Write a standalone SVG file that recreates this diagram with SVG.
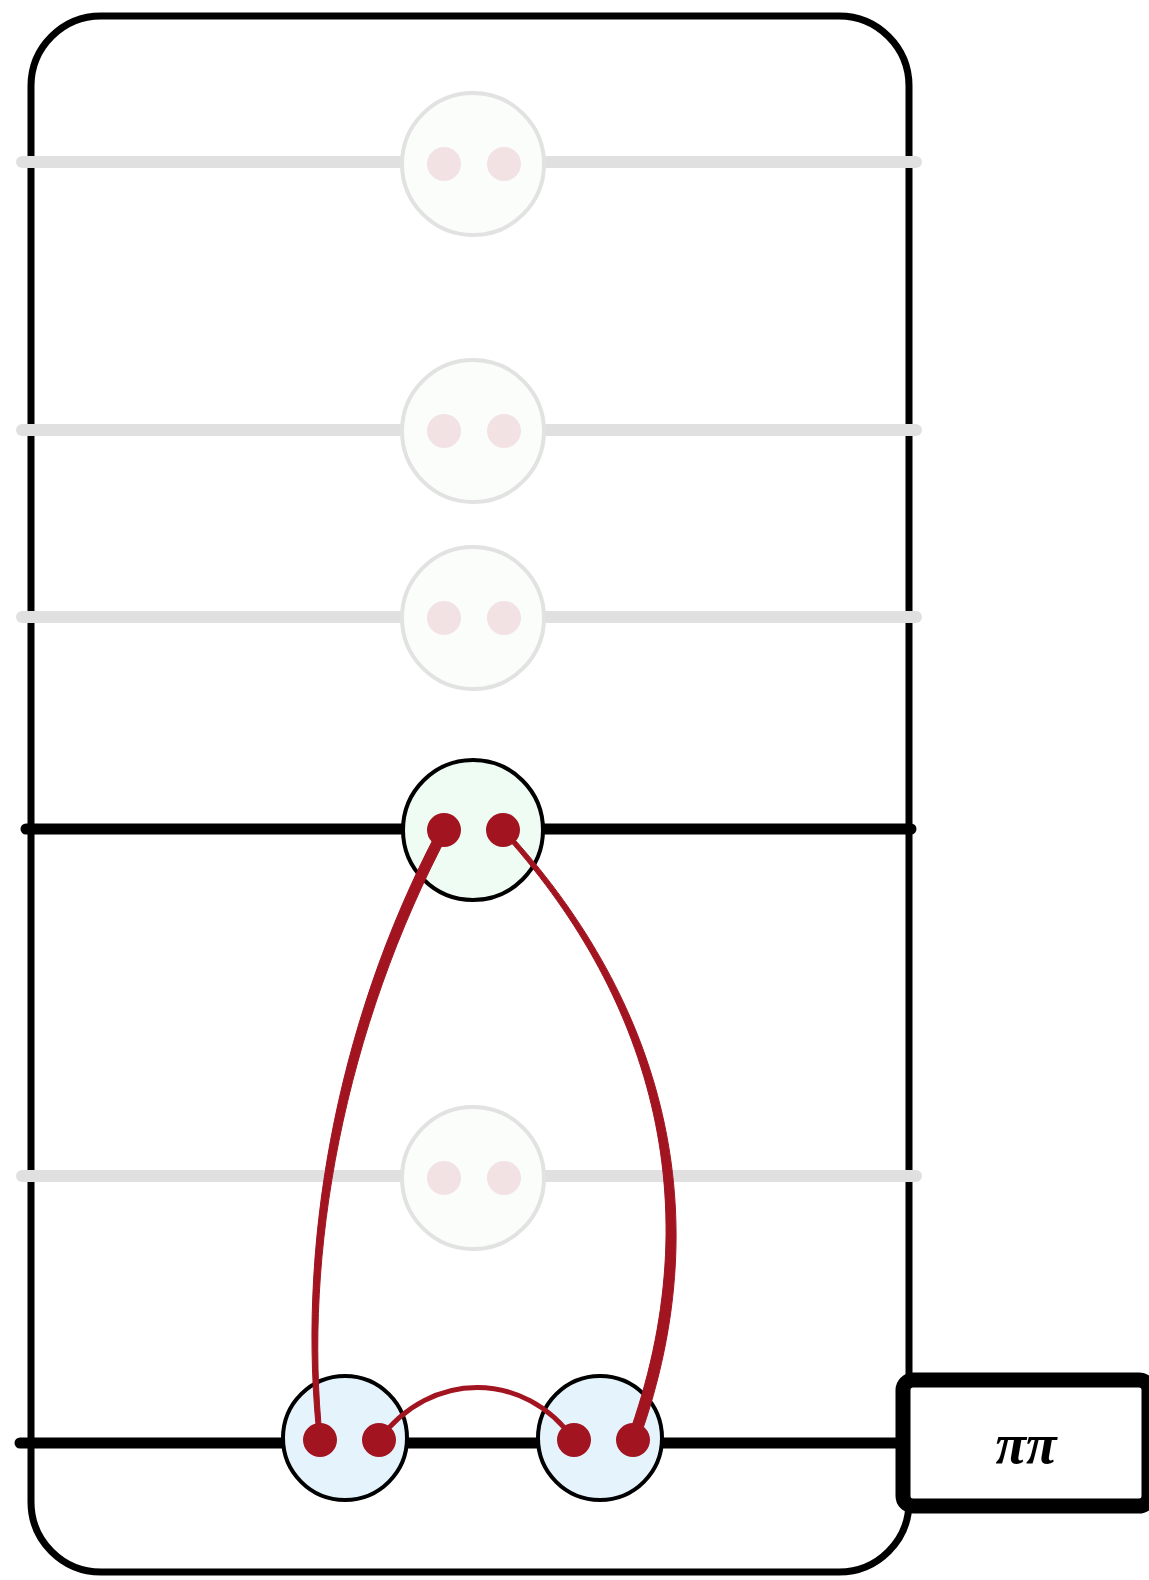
<svg xmlns="http://www.w3.org/2000/svg" width="1149" height="1580" viewBox="0 0 1149 1580">
<style>
.frame{fill:none;stroke:#000;stroke-width:7}
.gline{stroke:#e0e0e0;stroke-width:12;stroke-linecap:round;fill:none}
.bline{stroke:#000;stroke-width:11;stroke-linecap:round;fill:none}
.gnode{fill:#fbfdfb;stroke:#e2e2e2;stroke-width:4}
.gdot{fill:#f3e2e4}
.rdot{fill:#a11420}
.wire{fill:none;stroke:#a11420;stroke-linecap:round}
.wfill{fill:#a11420;stroke:#a11420;stroke-width:1;stroke-linejoin:round}
.gn{fill:#eefcf3;stroke:#000;stroke-width:4}
.bn{fill:#e5f3fd;stroke:#000;stroke-width:4}
.lbl{font-family:"Liberation Serif",serif;font-style:italic;font-weight:bold;font-size:56px;fill:#000}
</style>
<rect class="frame" x="31" y="16" width="878" height="1556" rx="70" ry="70"/>
<g id="rows">
<line class="gline" x1="22" y1="162" x2="916" y2="162"/>
<line class="gline" x1="22" y1="430" x2="916" y2="430"/>
<line class="gline" x1="22" y1="617" x2="916" y2="617"/>
<line class="gline" x1="22" y1="1176" x2="916" y2="1176"/>
<line class="bline" x1="26" y1="829" x2="911" y2="829"/>
<line class="bline" x1="20" y1="1443" x2="900" y2="1443"/>
</g>
<g id="node-g1"><circle class="gnode" cx="473" cy="164" r="71"/><circle class="gdot" cx="444" cy="164" r="17"/><circle class="gdot" cx="504" cy="164" r="17"/></g>
<g id="node-g2"><circle class="gnode" cx="473" cy="431" r="71"/><circle class="gdot" cx="444" cy="431" r="17"/><circle class="gdot" cx="504" cy="431" r="17"/></g>
<g id="node-g3"><circle class="gnode" cx="473" cy="618" r="71"/><circle class="gdot" cx="444" cy="618" r="17"/><circle class="gdot" cx="504" cy="618" r="17"/></g>
<g id="node-g4"><circle class="gnode" cx="473" cy="1178" r="71"/><circle class="gdot" cx="444" cy="1178" r="17"/><circle class="gdot" cx="504" cy="1178" r="17"/></g>
<g id="node-top"><circle class="gn" cx="473" cy="830" r="70"/></g>
<g id="node-left"><circle class="bn" cx="345" cy="1438" r="62"/></g>
<g id="node-right"><circle class="bn" cx="600" cy="1438" r="62"/></g>
<g id="connectors">
<path class="wfill" d="M438,830 C332.5,1030 297,1255 317.5,1440 L322.5,1440 C303,1255 343.5,1030 450,830 Z"/>
<path class="wfill" d="M500,830 C646.5,990 715,1200 627,1440 L639,1440 C725,1200 653.5,990 506,830 Z"/>
<path class="wire" stroke-width="5" d="M379,1440 C430,1370 525,1370 574,1440"/>
</g>
<g id="dots">
<circle class="rdot" cx="444" cy="830" r="17"/><circle class="rdot" cx="503" cy="830" r="17"/>
<circle class="rdot" cx="320" cy="1440" r="17"/><circle class="rdot" cx="379" cy="1440" r="17"/>
<circle class="rdot" cx="574" cy="1440" r="17"/><circle class="rdot" cx="633" cy="1440" r="17"/>
</g>
<g id="node-pipi">
<rect x="903" y="1380" width="246" height="126" rx="10" fill="#fff" stroke="#000" stroke-width="15"/>
<text class="lbl" x="1026" y="1463" text-anchor="middle">ππ</text>
</g>
</svg>
